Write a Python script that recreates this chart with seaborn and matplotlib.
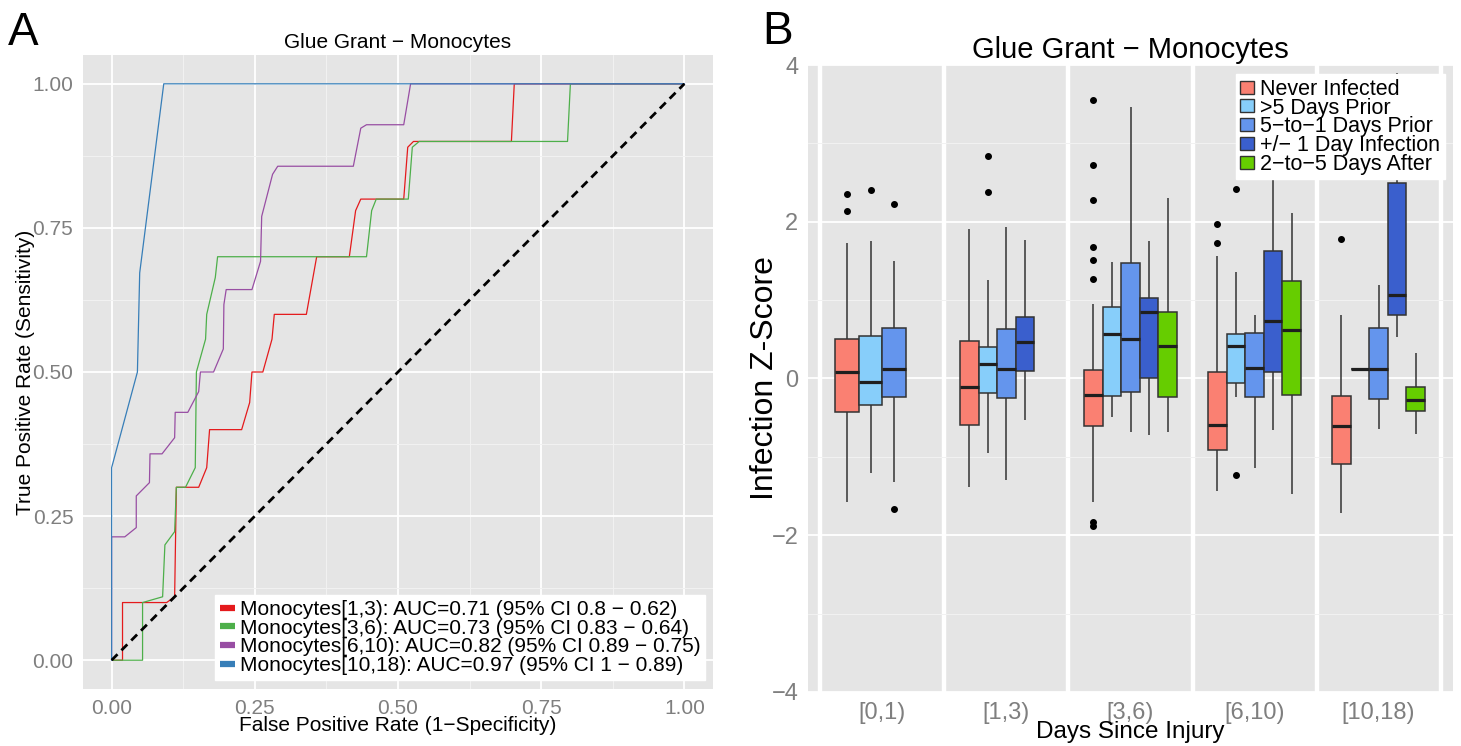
import numpy as np
import pandas as pd
import matplotlib
matplotlib.use("Agg")
import matplotlib.pyplot as plt
import seaborn as sns
from matplotlib.lines import Line2D
from matplotlib.patches import Patch
from matplotlib.ticker import FixedLocator

sns.set_theme(style="darkgrid")
plt.rcParams['font.family'] = ['Liberation Sans', 'DejaVu Sans']
plt.rcParams['axes.unicode_minus'] = True
plt.rcParams['text.color'] = 'black'
plt.rcParams['axes.labelcolor'] = 'black'

# ---------------- Panel A data: ROC curves ----------------
roc_labels = [
    "Monocytes[1,3): AUC=0.71 (95% CI 0.8 \u2212 0.62)",
    "Monocytes[3,6): AUC=0.73 (95% CI 0.83 \u2212 0.64)",
    "Monocytes[6,10): AUC=0.82 (95% CI 0.89 \u2212 0.75)",
    "Monocytes[10,18): AUC=0.97 (95% CI 1 \u2212 0.89)",
]
roc_colors = ["#E41A1C", "#4DAF4A", "#984EA3", "#377EB8"]

fpr_1_3 = [0, 0.019, 0.019, 0.096, 0.11, 0.113, 0.152, 0.166, 0.171, 0.227, 0.241, 0.245,
           0.264, 0.28, 0.284, 0.34, 0.358, 0.415, 0.426, 0.435, 0.51, 0.517, 0.527, 0.698, 0.703, 1.0]
tpr_1_3 = [0, 0, 0.1, 0.1, 0.11, 0.3, 0.3, 0.334, 0.4, 0.4, 0.447, 0.5,
           0.5, 0.557, 0.6, 0.6, 0.7, 0.7, 0.78, 0.8, 0.8, 0.89, 0.9, 0.9, 1.0, 1.0]

fpr_3_6 = [0, 0.054, 0.054, 0.089, 0.093, 0.11, 0.113, 0.129, 0.146, 0.148, 0.164, 0.166,
           0.181, 0.185, 0.445, 0.454, 0.462, 0.518, 0.525, 0.537, 0.796, 0.801, 1.0]
tpr_3_6 = [0, 0, 0.1, 0.11, 0.2, 0.223, 0.3, 0.3, 0.334, 0.5, 0.557, 0.6,
           0.664, 0.7, 0.7, 0.78, 0.8, 0.8, 0.89, 0.9, 0.9, 1.0, 1.0]

fpr_6_10 = [0, 0, 0.023, 0.043, 0.043, 0.066, 0.067, 0.088, 0.11, 0.111, 0.133, 0.152, 0.155,
            0.178, 0.195, 0.196, 0.2, 0.245, 0.26, 0.262, 0.281, 0.29, 0.422, 0.435, 0.445,
            0.51, 0.522, 1.0]
tpr_6_10 = [0, 0.214, 0.214, 0.23, 0.285, 0.308, 0.358, 0.358, 0.386, 0.43, 0.43, 0.466, 0.5,
            0.5, 0.54, 0.617, 0.643, 0.643, 0.692, 0.77, 0.843, 0.857, 0.857, 0.923, 0.929,
            0.929, 1.0, 1.0]

fpr_10_18 = [0, 0, 0.045, 0.049, 0.091, 1.0]
tpr_10_18 = [0, 0.334, 0.5, 0.672, 1.0, 1.0]

# ---------------- Panel B data: box statistics ----------------
categories = ["[0,1)", "[1,3)", "[3,6)", "[6,10)", "[10,18)"]
groups = ["Never Infected", ">5 Days Prior", "5\u2212to\u22121 Days Prior",
          "+/\u2212 1 Day Infection", "2\u2212to\u22125 Days After"]
group_colors = ["#FA8072", "#87CEFA", "#6495ED", "#3A5FCD", "#66CD00"]

never_q1 = [-0.43, -0.587, -0.61, -0.914, -1.09]
never_med = [0.088, -0.104, -0.21, -0.597, -0.608]
never_q3 = [0.504, 0.483, 0.114, 0.088, -0.218]
never_lo = [-1.57, -1.38, -1.58, -1.43, -1.71]
never_hi = [1.73, 1.91, 0.945, 1.56, 0.805]
never_out = [[2.14, 2.35], [], [1.27, 1.51, 1.68, 2.28, 2.73, 3.55, -1.83, -1.88], [1.73, 1.97], [1.78]]

gt5_q1 = [-0.34, -0.18, -0.218, -0.062, 0.12]
gt5_med = [-0.04, 0.187, 0.566, 0.42, 0.12]
gt5_q3 = [0.54, 0.40, 0.914, 0.571, 0.12]
gt5_lo = [-1.21, -0.95, -0.49, -0.234, 0.12]
gt5_hi = [1.75, 1.26, 1.49, 1.36, 0.12]
gt5_out = [[2.40], [2.38, 2.84], [], [2.42, -1.23], []]

p51_q1 = [-0.23, -0.255, -0.166, -0.23, -0.26]
p51_med = [0.125, 0.125, 0.51, 0.13, 0.12]
p51_q3 = [0.64, 0.634, 1.47, 0.58, 0.65]
p51_lo = [-1.32, -1.29, -0.686, -1.14, -0.65]
p51_hi = [1.50, 1.93, 3.46, 0.805, 1.19]
p51_out = [[2.23, -1.67], [], [], [], []]

inf1_q1 = [None, 0.094, 0.0, 0.078, 0.805]
inf1_med = [None, 0.46, 0.85, 0.732, 1.07]
inf1_q3 = [None, 0.784, 1.03, 1.63, 2.49]
inf1_lo = [None, -0.53, -0.727, -0.66, 0.53]
inf1_hi = [None, 1.77, 1.76, 2.9, 3.9]
inf1_out = [[], [], [], [], []]

aft_q1 = [None, None, -0.23, -0.208, -0.416]
aft_med = [None, None, 0.416, 0.618, -0.27]
aft_q3 = [None, None, 0.85, 1.247, -0.104]
aft_lo = [None, None, -0.686, -1.47, -0.706]
aft_hi = [None, None, 2.30, 2.11, 0.33]
aft_out = [[], [], [], [], []]

box_stats = [
    (never_q1, never_med, never_q3, never_lo, never_hi, never_out),
    (gt5_q1, gt5_med, gt5_q3, gt5_lo, gt5_hi, gt5_out),
    (p51_q1, p51_med, p51_q3, p51_lo, p51_hi, p51_out),
    (inf1_q1, inf1_med, inf1_q3, inf1_lo, inf1_hi, inf1_out),
    (aft_q1, aft_med, aft_q3, aft_lo, aft_hi, aft_out),
]


def expand(q1, med, q3, lo, hi, outs):
    """Sample whose quartiles / whisker ends / outliers equal the read-off statistics."""
    low_o = sorted(o for o in outs if o < q1)
    high_o = sorted(o for o in outs if o > q3)
    m = max(len(low_o), len(high_o)) + 1
    vals = low_o + [lo] * (m - len(low_o)) + [q1] + [q1] * (m - 1) + [med] \
        + [q3] * (m - 1) + [q3] + [hi] * (m - len(high_o)) + high_o
    return vals


rows = []
for g, stats in zip(groups, box_stats):
    q1s, meds, q3s, los, his, outs = stats
    for i, c in enumerate(categories):
        if q1s[i] is None:
            continue
        for v in expand(q1s[i], meds[i], q3s[i], los[i], his[i], outs[i]):
            rows.append((c, g, v))
dfB = pd.DataFrame(rows, columns=["days", "group", "z"])

dfA = pd.concat([
    pd.DataFrame({"fpr": f, "tpr": t, "model": lab})
    for f, t, lab in zip([fpr_1_3, fpr_3_6, fpr_6_10, fpr_10_18],
                         [tpr_1_3, tpr_3_6, tpr_6_10, tpr_10_18], roc_labels)
], ignore_index=True)

# ---------------- Figure ----------------
W, H = 1461, 746
fig = plt.figure(figsize=(W / 100, H / 100), dpi=100)
fig.patch.set_facecolor("white")
BG = "#E5E5E5"
TICKC = "#7F7F7F"

# ---------- Panel A ----------
axA = fig.add_axes([83 / W, 1 - 689 / H, 630 / W, 634 / H])
axA.set_facecolor(BG)
for s in axA.spines.values():
    s.set_visible(False)
sns.lineplot(data=dfA, x="fpr", y="tpr", hue="model", hue_order=roc_labels,
             palette=roc_colors, sort=False, estimator=None, linewidth=0.9,
             ax=axA, legend=False)
axA.plot([0, 1], [0, 1], color="black", lw=2.0, ls=(0, (3, 2)), zorder=5)
axA.set_xlim(-0.05, 1.05)
axA.set_ylim(-0.05, 1.05)
axA.xaxis.set_major_locator(FixedLocator([0, 0.25, 0.5, 0.75, 1.0]))
axA.yaxis.set_major_locator(FixedLocator([0, 0.25, 0.5, 0.75, 1.0]))
axA.xaxis.set_minor_locator(FixedLocator([0.125, 0.375, 0.625, 0.875]))
axA.yaxis.set_minor_locator(FixedLocator([0.125, 0.375, 0.625, 0.875]))
axA.set_xticklabels(["0.00", "0.25", "0.50", "0.75", "1.00"])
axA.set_yticklabels(["0.00", "0.25", "0.50", "0.75", "1.00"])
axA.grid(which="major", color="white", lw=1.3)
axA.grid(which="minor", color="#F2F2F2", lw=0.7)
axA.set_axisbelow(True)
axA.tick_params(which="major", length=4, width=1, color=TICKC, labelcolor=TICKC,
                labelsize=15, pad=3)
axA.tick_params(which="minor", length=0)
axA.set_xlabel("False Positive Rate (1\u2212Specificity)", fontsize=15, labelpad=-1)
axA.set_ylabel("True Positive Rate (Sensitivity)", fontsize=15, labelpad=-2)
axA.set_title("Glue Grant \u2212 Monocytes", fontsize=15, pad=5)

handlesA = [Line2D([], [], color=c, lw=4.5, solid_capstyle="butt") for c in roc_colors]
legA = axA.legend(handlesA, roc_labels, loc="lower right", bbox_to_anchor=(0.988, 0.014),
                  borderaxespad=0, fontsize=15, labelspacing=-0.02, handlelength=0.75,
                  handletextpad=0.2, borderpad=0.25, frameon=True, fancybox=False,
                  framealpha=1, edgecolor="white", facecolor="white")

# ---------- Panel B ----------
axB = fig.add_axes([808 / W, 1 - 692 / H, 645 / W, 627 / H])
axB.set_facecolor(BG)
for s in axB.spines.values():
    s.set_visible(False)

box_kw = dict(x="days", y="z", hue="group", order=categories, dodge=True,
              saturation=1, linecolor="#333333", linewidth=1.1, fliersize=4,
              whis=1.5, showcaps=False,
              flierprops=dict(marker="o", markerfacecolor="black",
                              markeredgecolor="black"),
              medianprops=dict(color="#1F1F1F", linewidth=2.3),
              ax=axB, legend=False)
# first interval: three groups share the dodge width of four slots
first = dfB[dfB["days"] == categories[0]]
sns.boxplot(data=first, hue_order=groups[:4], palette=group_colors[:4], width=0.76, **box_kw)
rest = dfB[dfB["days"] != categories[0]]
sns.boxplot(data=rest, hue_order=groups, palette=group_colors, width=0.75, **box_kw)

axB.set_xlim(-0.6, len(categories) - 0.4)
axB.set_ylim(-4, 4)
axB.yaxis.set_major_locator(FixedLocator([-4, -2, 0, 2, 4]))
axB.yaxis.set_minor_locator(FixedLocator([-3, -1, 1, 3]))
axB.xaxis.set_minor_locator(FixedLocator(np.arange(len(categories) + 1) - 0.5))
axB.set_yticklabels(["\u22124", "\u22122", "0", "2", "4"])
axB.xaxis.grid(False, which="major")
axB.xaxis.grid(True, which="minor", color="white", lw=3.2)
axB.yaxis.grid(True, which="major", color="white", lw=1.3)
axB.yaxis.grid(True, which="minor", color="#F2F2F2", lw=0.7)
axB.set_axisbelow(True)
axB.tick_params(which="major", length=4, width=1, color=TICKC, labelcolor=TICKC,
                labelsize=17, pad=3)
axB.tick_params(which="minor", length=0)
axB.set_xlabel("Days Since Injury", fontsize=17.5, labelpad=-2)
axB.set_ylabel("Infection Z-Score", fontsize=23, labelpad=-6.5)
axB.set_title("Glue Grant \u2212 Monocytes", fontsize=21, pad=5)

handlesB = [Patch(facecolor=c, edgecolor="#333333", lw=1.0) for c in group_colors]
legB = axB.legend(handlesB, groups, loc="upper right", bbox_to_anchor=(0.987, 0.985),
                  borderaxespad=0, fontsize=15.5, labelspacing=-0.1, handlelength=0.65,
                  handleheight=0.55, handletextpad=0.3, borderpad=0.2, frameon=True,
                  fancybox=False, framealpha=1, edgecolor="white", facecolor="white")

fig.text(8 / W, 1 - 45 / H, "A", fontsize=33, ha="left", va="baseline")
fig.text(762 / W, 1 - 44 / H, "B", fontsize=33, ha="left", va="baseline")

fig.savefig("out.png", dpi=100, facecolor="white")
